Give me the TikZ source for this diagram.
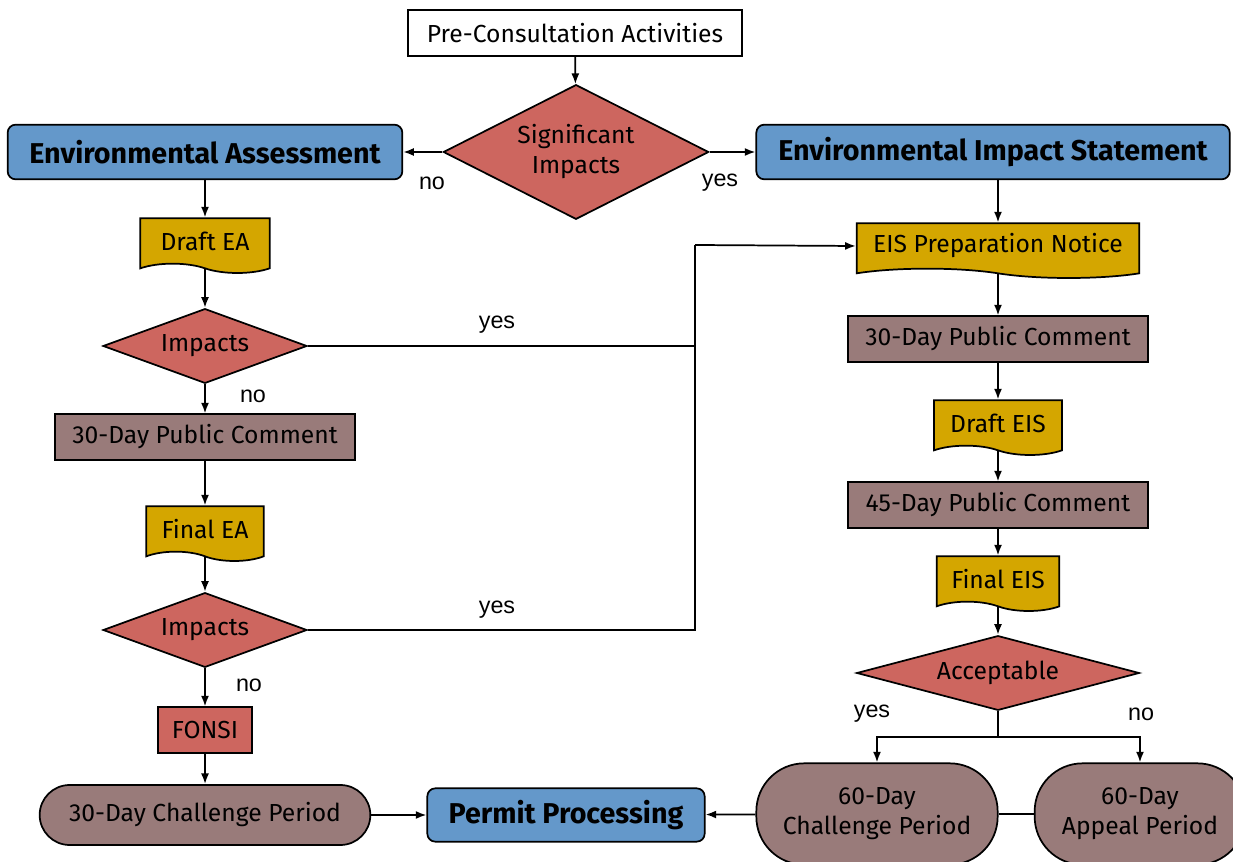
\documentclass[tikz,border=0pt]{standalone}
\usepackage{fontspec}
\setmainfont{Fira Sans}
\newfontfamily\labelfont{Liberation Sans}
\usetikzlibrary{shapes.geometric,shapes.symbols,shapes.misc,arrows.meta}

\definecolor{boxblue}{RGB}{100,152,202}
\definecolor{boxred}{RGB}{205,102,95}
\definecolor{boxgold}{RGB}{212,166,0}
\definecolor{boxmauve}{RGB}{153,123,122}

\begin{document}
\begin{tikzpicture}[x=0.75pt,y=-0.75pt,>={Latex[length=8pt,width=6pt]},line width=1.3pt,
    font=\fontsize{18.5}{22.5}\selectfont,
    every node/.style={inner sep=2pt},
    plain/.style={draw,fill=white,minimum width=251pt,minimum height=35pt},
    phase/.style={draw,fill=boxblue,rounded corners=6pt,minimum height=41pt,
        font=\fontsize{21.5}{24}\selectfont\bfseries},
    decision/.style={draw,fill=boxred,diamond,inner sep=0pt},
    docbox/.style={draw,fill=boxgold,tape,tape bend top=none,
        tape bend bottom=out and in,tape bend height=7pt,minimum height=41pt},
    comment/.style={draw,fill=boxmauve,minimum width=225pt,minimum height=34pt},
    period/.style={draw,fill=boxmauve,align=center},
    answer/.style={font=\labelfont\fontsize{17.5}{20}\selectfont}]
    \useasboundingbox[fill=white] (0,0) rectangle (1233,862);

    % top of the chart
    \node[plain] (pre) at (575,33) {Pre-Consultation Activities};
    \node[decision,aspect=2,minimum width=199pt,minimum height=101pt,align=center]
        (sig) at (576,152) {Significant\\Impacts};
    \node[phase,minimum width=296pt] (ea) at (205,152) {Environmental Assessment};
    \node[phase,minimum width=355pt] (eis) at (993,152) {Environmental Impact Statement};
    \node[answer] (signo) at (432,183) {no};
    \node[answer] (sigyes) at (720,183) {yes};

    % assessment branch
    \node[docbox,minimum width=97pt] (draftea) at (205,241) {Draft EA};
    \node[decision,aspect=2.7,minimum width=153pt,minimum height=56pt] (impa) at (205,346) {Impacts};
    \node[answer] (impano) at (253,396) {no};
    \node[comment] (pca) at (205,437) {30-Day Public Comment};
    \node[docbox,minimum width=88pt] (finalea) at (205,529) {Final EA};
    \node[decision,aspect=2.7,minimum width=153pt,minimum height=56pt] (impb) at (205,630) {Impacts};
    \node[answer] (impbno) at (249,685) {no};
    \node[draw,fill=boxred,minimum width=70pt,minimum height=34pt] (fonsi) at (205,730) {FONSI};
    \node[period,rounded rectangle,minimum width=252pt,minimum height=45pt] (chala) at (205,815)
        {30-Day Challenge Period};
    \node[phase,minimum width=208pt,minimum height=40pt] (permit) at (566,815) {Permit Processing};

    % impact statement branch
    \node[docbox,minimum width=212pt] (prep) at (998,246) {EIS Preparation Notice};
    \node[comment] (pcb) at (998,339) {30-Day Public Comment};
    \node[docbox,minimum width=96pt] (drafteis) at (998,423) {Draft EIS};
    \node[comment] (pcc) at (998,505) {45-Day Public Comment};
    \node[docbox,minimum width=92pt] (finaleis) at (998,579) {Final EIS};
    \node[decision,aspect=3.8,minimum width=212pt,minimum height=56pt] (accept) at (998,673) {Acceptable};
    \node[answer] (acceptyes) at (872,714) {yes};
    \node[answer] (acceptno) at (1141,714) {no};
    \node[period,rounded corners=36pt,minimum width=181pt,minimum height=76pt] (chalb) at (877,814)
        {60-Day\\Challenge Period};
    \node[period,rounded corners=36pt,minimum width=158pt,minimum height=76pt] (appeal) at (1140,814)
        {60-Day\\Appeal Period};

    \coordinate (jn) at (695,245);
    \coordinate (split) at (998,737);
    \node[answer] (impayes) at (497,325) {yes};
    \node[answer] (impbyes) at (497,610) {yes};

    \draw[->] (pre) -- (sig);
    \draw[->] (sig.west) -- (ea.east);
    \draw[->] (sig.east) -- (eis.west);
    \draw[->] (ea) -- (draftea);
    \draw[->] (draftea) -- (impa);
    \draw[->] (impa) -- (pca);
    \draw[->] (pca) -- (finalea);
    \draw[->] (finalea) -- (impb);
    \draw[->] (impb) -- (fonsi);
    \draw[->] (fonsi) -- (chala);
    \draw[->] (chala) -- (permit);
    \draw (impa.east) -| (jn);
    \draw (impb.east) -| (jn);
    \draw[->] (jn) -- (prep.west);
    \draw[->] (eis.south -| prep.north) -- (prep.north);
    \draw[->] (prep) -- (pcb);
    \draw[->] (pcb) -- (drafteis);
    \draw[->] (drafteis) -- (pcc);
    \draw[->] (pcc) -- (finaleis);
    \draw[->] (finaleis) -- (accept);
    \draw (accept.south) -- (split);
    \draw[->] (split) -| (chalb.north);
    \draw[->] (split) -| (appeal.north);
    \draw (appeal) -- (chalb);
    \draw[->] (chalb) -- (permit);
\end{tikzpicture}
\end{document}
